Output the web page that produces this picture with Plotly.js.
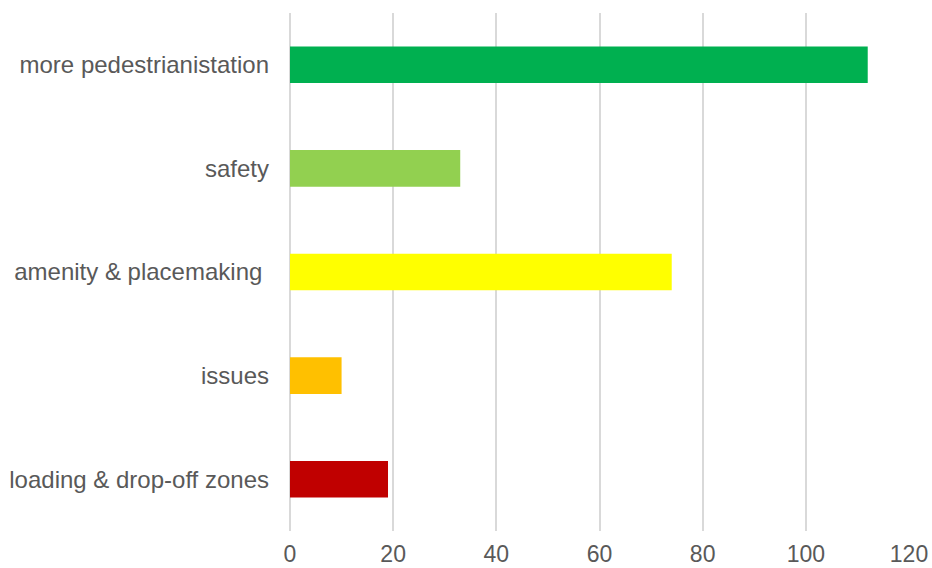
<!DOCTYPE html>
<html>
<head>
<meta charset="utf-8">
<script src="https://cdn.plot.ly/plotly-3.0.1.min.js"></script>
<style>
html,body{margin:0;padding:0;background:#fff;}
#chart{width:932px;height:568px;}
</style>
</head>
<body>
<div id="chart"></div>
<script>
const categories = ["more pedestrianistation", "safety", "amenity & placemaking\u00a0", "issues", "loading & drop-off zones"];
const values = [112, 33, 74, 10, 19];
const barColors = ["#00B050", "#92D050", "#FFFF00", "#FFC000", "#C00000"];
const xTicks = [0, 20, 40, 60, 80, 100, 120];

const trace = {
  type: "bar",
  orientation: "h",
  y: categories,
  x: values,
  marker: {color: barColors, line: {width: 0}},
  hoverinfo: "x+y"
};

const layout = {
  width: 932,
  height: 568,
  margin: {l: 290, r: 23, t: 13, b: 37, pad: 0},
  paper_bgcolor: "#ffffff",
  plot_bgcolor: "#ffffff",
  showlegend: false,
  bargap: 0.647,
  font: {family: "'Liberation Sans', Arial, sans-serif", size: 24, color: "#595959"},
  xaxis: {
    range: [0, 120],
    tickvals: xTicks,
    ticktext: xTicks.map(String),
    showgrid: true,
    gridcolor: "#d9d9d9",
    gridwidth: 2,
    zeroline: true,
    zerolinecolor: "#d9d9d9",
    zerolinewidth: 2,
    showline: false,
    ticks: "",
    ticklabelstandoff: 7,
    tickfont: {size: 23, color: "#595959"},
    fixedrange: true
  },
  yaxis: {
    type: "category",
    categoryorder: "array",
    categoryarray: categories,
    autorange: "reversed",
    showgrid: false,
    zeroline: false,
    showline: false,
    ticks: "",
    ticklabelstandoff: 20,
    tickfont: {size: 24, color: "#595959"},
    fixedrange: true
  }
};

Plotly.newPlot("chart", [trace], layout, {displayModeBar: false, staticPlot: true});
</script>
</body>
</html>
